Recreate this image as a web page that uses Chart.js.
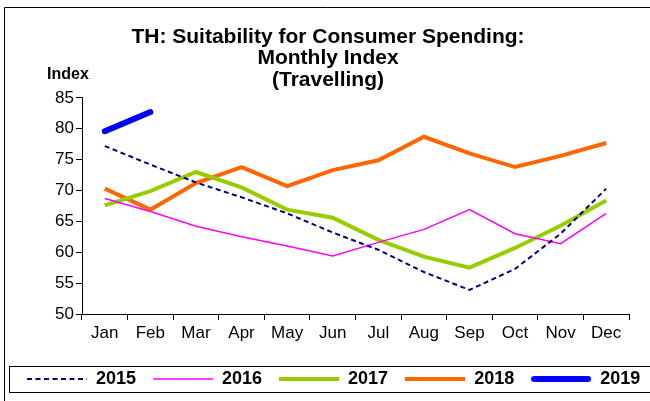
<!DOCTYPE html>
<html>
<head>
<meta charset="utf-8">
<script src="https://cdn.jsdelivr.net/npm/chart.js@4/dist/chart.umd.min.js"></script>
<style>
  html, body { margin: 0; padding: 0; background: #fff; }
  #wrap { width: 650px; height: 401px; position: relative; }
</style>
</head>
<body>
<div id="wrap"><canvas id="c" width="650" height="401"></canvas></div>
<script>
const months = ['Jan', 'Feb', 'Mar', 'Apr', 'May', 'Jun', 'Jul', 'Aug', 'Sep', 'Oct', 'Nov', 'Dec'];
const s2015 = [77.2, 74.2, 71.3, 68.9, 66.3, 63.2, 60.4, 56.8, 53.9, 57.3, 63.0, 70.3];
const s2016 = [68.7, 66.6, 64.2, 62.5, 61.0, 59.4, 61.6, 63.7, 66.9, 63.0, 61.4, 66.3];
const s2017 = [67.6, 69.9, 73.0, 70.5, 66.9, 65.6, 62.0, 59.3, 57.5, 60.7, 64.3, 68.4];
const s2018 = [70.3, 66.9, 71.2, 73.8, 70.7, 73.3, 74.9, 78.7, 76.0, 73.8, 75.6, 77.7];
const s2019 = [79.6, 82.7, null, null, null, null, null, null, null, null, null, null];
const yTicks = { min: 50, max: 85, step: 5 };
const titleLines = ['TH: Suitability for Consumer Spending:', 'Monthly Index', '(Travelling)'];
const yAxisLabel = 'Index';

const FONT = "'Liberation Sans', Arial, Helvetica, sans-serif";
Chart.defaults.font.family = FONT;
Chart.defaults.color = '#000';

const SAMPLE_W = 60;
// legend sample: a short line in the dataset's own style (keeps the dash pattern)
function makeSample(ds) {
  const cv = document.createElement('canvas');
  cv.width = SAMPLE_W;
  cv.height = 10;
  const c = cv.getContext('2d');
  const lw = ds.borderWidth || 1;
  const cap = ds.borderCapStyle || 'butt';
  const inset = cap === 'round' ? lw / 2 : 0;
  c.strokeStyle = ds.borderColor;
  c.lineWidth = lw;
  c.lineCap = cap;
  c.setLineDash(ds.borderDash || []);
  c.beginPath();
  c.moveTo(inset, 5);
  c.lineTo(SAMPLE_W - inset, 5);
  c.stroke();
  return cv;
}

// keep all five legend entries on one row (the reference's legend box runs past the right edge)
const legendRowPlugin = {
  id: 'legendRow',
  beforeUpdate(chart) {
    const lg = chart.legend;
    if (lg && !lg._oneRow) {
      const origFit = lg.fit.bind(lg);
      lg.fit = function () {
        const mw = this.maxWidth;
        this.maxWidth = mw + 60;
        origFit();
        this.maxWidth = mw;
        this.width = Math.min(this.width, mw);
      };
      lg._oneRow = true;
    }
  },
  afterLayout(chart) {
    if (chart.legend) {
      chart.legend.right = chart.width + 60;
    }
  }
};

const framePlugin = {
  id: 'frame',
  afterDraw(chart) {
    const ctx = chart.ctx;
    ctx.save();
    ctx.strokeStyle = '#000';
    ctx.lineWidth = 1;
    ctx.beginPath();
    ctx.moveTo(4.5, 401);
    ctx.lineTo(4.5, 7.5);
    ctx.lineTo(650, 7.5);
    ctx.stroke();
    const lg = chart.legend;
    if (lg && lg.legendHitBoxes && lg.legendHitBoxes.length) {
      const hb = lg.legendHitBoxes[0];
      const cy = hb.top + hb.height / 2;
      ctx.strokeRect(9.5, Math.round(cy - 13) + 0.5, 700, 26);
    }
    ctx.fillStyle = '#000';
    ctx.font = 'bold 16px ' + FONT;
    ctx.textAlign = 'left';
    ctx.textBaseline = 'middle';
    ctx.fillText(yAxisLabel, 47, 75);
    ctx.restore();
  }
};

new Chart(document.getElementById('c'), {
  type: 'line',
  data: {
    labels: months,
    datasets: [
      { label: '2015', data: s2015, borderColor: '#000080', backgroundColor: '#000080', borderWidth: 2, borderDash: [5, 3.5] },
      { label: '2016', data: s2016, borderColor: '#FF00FF', backgroundColor: '#FF00FF', borderWidth: 1.5 },
      { label: '2017', data: s2017, borderColor: '#99CC00', backgroundColor: '#99CC00', borderWidth: 4 },
      { label: '2018', data: s2018, borderColor: '#FF6600', backgroundColor: '#FF6600', borderWidth: 4 },
      { label: '2019', data: s2019, borderColor: '#0000FF', backgroundColor: '#0000FF', borderWidth: 6, borderCapStyle: 'round' }
    ]
  },
  options: {
    responsive: false,
    animation: false,
    layout: { padding: { left: 10, right: 4, top: 0, bottom: 3 } },
    elements: { point: { radius: 0, hoverRadius: 0 }, line: { tension: 0 } },
    plugins: {
      tooltip: { enabled: false },
      title: {
        display: true,
        text: titleLines,
        color: '#000',
        font: { size: 21, weight: 'bold', lineHeight: 1.03 },
        padding: { top: 26, bottom: 7 }
      },
      legend: {
        position: 'bottom',
        align: 'start',
        labels: {
          usePointStyle: true,
          pointStyleWidth: SAMPLE_W,
          padding: 17,
          color: '#000',
          font: { size: 18, weight: 'bold' },
          generateLabels(chart) {
            const items = Chart.defaults.plugins.legend.labels.generateLabels(chart);
            items.forEach(it => {
              it.pointStyle = makeSample(chart.data.datasets[it.datasetIndex]);
            });
            return items;
          }
        }
      }
    },
    scales: {
      x: {
        type: 'category',
        offset: true,
        grid: { display: true, drawOnChartArea: false, offset: true, tickLength: 6, color: '#000' },
        border: { display: true, color: '#000', width: 1 },
        ticks: { font: { size: 17 }, color: '#000', padding: 3, maxRotation: 0, autoSkip: false },
        afterFit(s) { s.height = 39; }
      },
      y: {
        type: 'linear',
        position: 'left',
        min: yTicks.min,
        max: yTicks.max,
        grid: { display: true, drawOnChartArea: false, tickLength: 6, color: '#000' },
        border: { display: true, color: '#000', width: 1 },
        ticks: { stepSize: yTicks.step, font: { size: 17 }, color: '#000', padding: 2 },
        afterFit(s) { s.width = 72; }
      },
      yR: {
        type: 'linear',
        position: 'right',
        display: true,
        grid: { display: false },
        border: { display: false },
        ticks: { display: false },
        afterFit(s) { s.width = 17; }
      }
    }
  },
  plugins: [legendRowPlugin, framePlugin]
});
</script>
</body>
</html>
